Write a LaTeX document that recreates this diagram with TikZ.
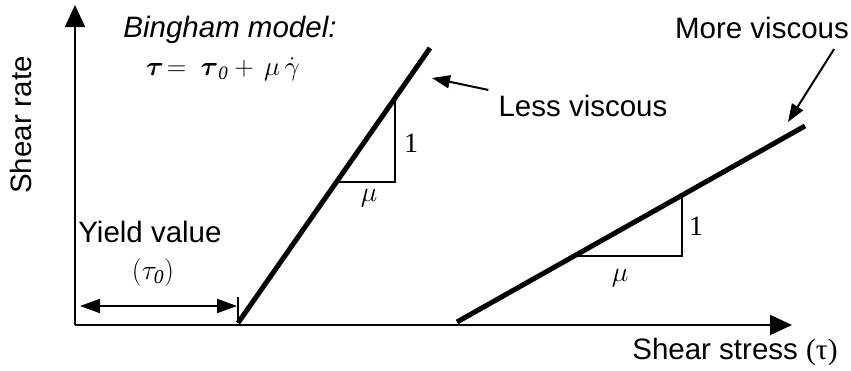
\RequirePackage{fix-cm}
\documentclass[tikz,border=0pt]{standalone}
\usepackage{amsmath}
\usepackage{fontspec}
\setmainfont{Liberation Serif}
\setsansfont{Liberation Sans}
\usepackage{tikz}
\usetikzlibrary{arrows.meta, positioning, calc}

\begin{document}
\begin{tikzpicture}[
    x=1pt, y=-1pt,
    axis/.style={line width=2pt, -{Triangle[length=22pt, width=20pt]}},
    flow/.style={line width=5pt},
    slope/.style={line width=1.6pt},
    callout/.style={line width=2pt, -{Triangle[length=18pt, width=13pt]}},
    span/.style={line width=2pt, {Triangle[length=20pt, width=14pt]}-{Triangle[length=20pt, width=14pt]}},
    lab/.style={font=\sffamily\fontsize{29.5}{34}\selectfont, inner sep=0pt},
    mth/.style={font=\fontsize{28}{32}\selectfont, inner sep=0pt},
  ]
    \useasboundingbox (0,0) rectangle (851,370);

    \coordinate (O) at (75,325);
    \coordinate (ytip) at (75,5);
    \coordinate (xtip) at (792,325);
    \draw[axis] (O) -- (ytip);
    \draw[axis] (O) -- (xtip);

    \node[lab, rotate=90] (yname) at (21,125) {Shear rate};
    \node[lab] (xname) at (735,352) {Shear stress \textrm{(τ)}};

    \node[lab, font=\sffamily\itshape\fontsize{29.5}{34}\selectfont] (model) at (230,30) {Bingham model:};
    \node[mth, font=\fontsize{27}{32}\selectfont] (law) at (223,69) {$\boldsymbol{\tau}\!=\ \boldsymbol{\tau}_{\mathit{0}} + \,\mu\,\dot{\gamma}$};

    % less viscous line
    \coordinate (lv0) at (238,323);
    \coordinate (lv1) at (430,48);
    \draw[flow] (lv0) -- (lv1);
    \draw[slope] ($(lv0)!0.513!(lv1)$) -| ($(lv0)!0.818!(lv1)$);
    \node[mth] (lvone) at (411,143) {1};
    \node[mth] (lvmu) at (369,198) {$\mu$};

    \node[lab] (lessv) at (583,106) {Less viscous};
    \coordinate (lvtip) at (432,78);
    \draw[callout] ([shift={(-10,-5)}]lessv.north west) -- (lvtip);

    % more viscous line
    \coordinate (mv0) at (457,322);
    \coordinate (mv1) at (805,126);
    \draw[flow] (mv0) -- (mv1);
    \draw[slope] ($(mv0)!0.336!(mv1)$) -| ($(mv0)!0.647!(mv1)$);
    \node[mth] (mvone) at (696,226) {1};
    \node[mth] (mvmu) at (620,278) {$\mu$};

    \node[lab] (morev) at (762,28) {More viscous};
    \coordinate (mvtip) at (788,122);
    \draw[callout] ([shift={(-15,10)}]morev.south east) -- (mvtip);

    % yield value
    \node[lab] (yield) at (150,232) {Yield value};
    \node[mth] (tau0) at (153,272) {$(\tau_{\mathit{0}})$};
    \coordinate (yv0) at (80,306);
    \coordinate (yv1) at (237,306);
    \draw[span] (yv0) -- (yv1);
    \draw[line width=2pt] (238,297) -- (lv0);
\end{tikzpicture}
\end{document}
